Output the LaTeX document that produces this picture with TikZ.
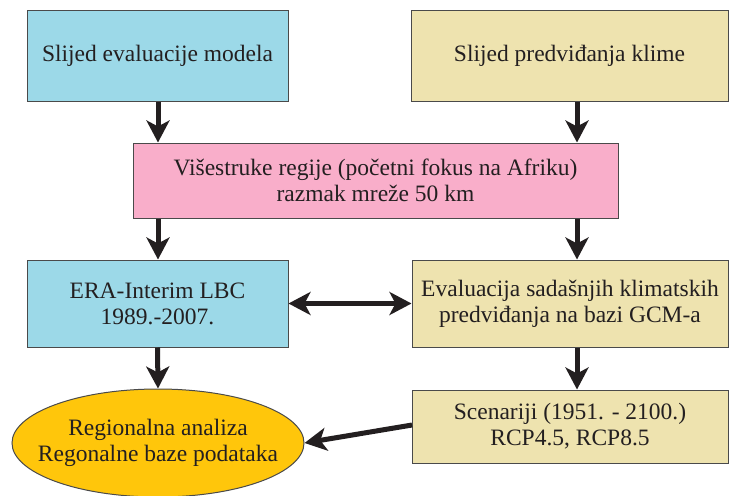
\documentclass[tikz,border=0pt]{standalone}
\usepackage{fontspec}
\setmainfont{Liberation Serif}
\usetikzlibrary{arrows.meta,shapes.geometric}
\definecolor{cblue}{HTML}{9CD9E8}
\definecolor{ctan}{HTML}{EEE3AF}
\definecolor{cpink}{HTML}{F9AECA}
\definecolor{cyel}{HTML}{FFC60B}
\definecolor{cline}{HTML}{231F20}
\definecolor{cedge}{HTML}{4A4A4A}
\begin{document}
\begin{tikzpicture}[x=1pt,y=-1pt,
  every node/.style={font=\fontsize{23.5}{26}\selectfont, align=center, text=cline},
  boxstyle/.style={draw=cedge, line width=1pt, inner sep=0pt},
  arr/.style={draw=cline, line width=5pt, -{Stealth[length=22pt,width=23pt,inset=6pt]}},
  darr/.style={draw=cline, line width=5pt, {Stealth[length=22pt,width=23pt,inset=6pt]}-{Stealth[length=22pt,width=23pt,inset=6pt]}}]
\useasboundingbox (0,0) rectangle (730,495);
\node[boxstyle, fill=cblue, minimum width=261pt, minimum height=90pt] (a) at (157.5,56) {Slijed evaluacije modela};
\node[boxstyle, fill=ctan, minimum width=317pt, minimum height=90pt] (b) at (569.5,56) {Slijed predviđanja klime};
\node[boxstyle, fill=cpink, minimum width=485pt, minimum height=75pt] (c) at (375.5,180.5) {Višestruke regije (početni fokus na Afriku)\\razmak mreže 50 km};
\node[boxstyle, fill=cblue, minimum width=261pt, minimum height=87pt] (d) at (157.5,303.5) {ERA-Interim LBC\\1989.-2007.};
\node[boxstyle, fill=ctan, minimum width=316pt, minimum height=87pt] (e) at (570,303.5) {Evaluacija sadašnjih klimatskih\\predviđanja na bazi GCM-a};
\node[boxstyle, fill=ctan, minimum width=316pt, minimum height=73pt] (f) at (570,426.5) {Scenariji (1951. - 2100.)\\RCP4.5, RCP8.5};
\node[ellipse, draw=cedge, line width=1pt, fill=cyel, minimum width=292pt, minimum height=108pt, inner sep=0pt] (g) at (158,443) {};
\node (gt) at (g.center) {Regionalna analiza\\Regonalne baze podataka};
\draw[arr] (a.south -| 158,0) -- (c.north -| 158,0);
\draw[arr] (b.south -| 577,0) -- (c.north -| 577,0);
\draw[arr] (c.south -| 158,0) -- (d.north -| 158,0);
\draw[arr] (c.south -| 577,0) -- (e.north -| 577,0);
\draw[darr] (d.east) -- (e.west);
\draw[arr] (d.south) -- (g.north);
\draw[arr] (e.south -| 577,0) -- (f.north -| 577,0);
\coordinate (fs) at (412,425);
\draw[arr] (fs) -- (g.east);
\end{tikzpicture}
\end{document}
